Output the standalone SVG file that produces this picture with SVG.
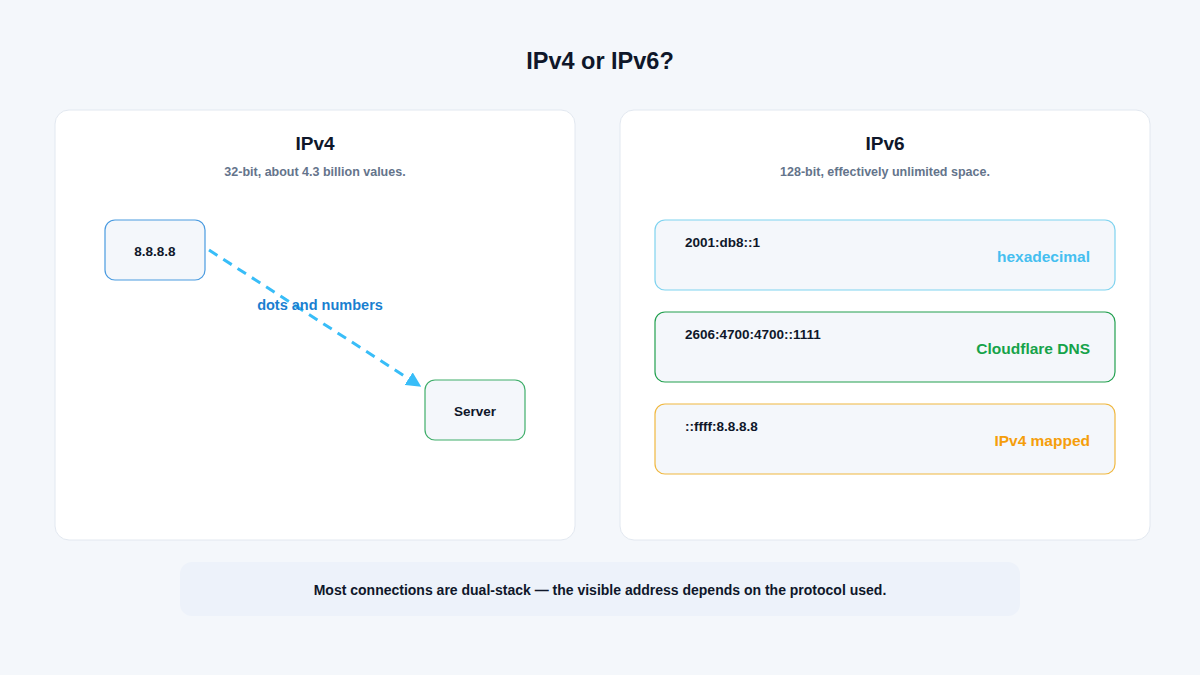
<svg xmlns="http://www.w3.org/2000/svg" width="1200" height="675" viewBox="0 0 1200 675">
<style>
text{font-family:"Liberation Sans",Arial,sans-serif;font-weight:bold}
.panel{fill:#fff;stroke:#e2e8f0;stroke-width:1}
.node{fill:#f4f7fb;stroke-width:1.2}
.t{font-size:13.5px;fill:#0f172a}
.sub{font-size:12.5px;fill:#64748b;text-anchor:middle;font-weight:bold}
.h{font-size:19px;fill:#0f172a;text-anchor:middle}
.lab{font-size:15.5px;text-anchor:end}
</style>
<defs>
<marker id="ah" viewBox="0 0 10 10" refX="9" refY="5" markerWidth="5" markerHeight="5" orient="auto" markerUnits="strokeWidth"><path d="M0,0L10,5L0,10z" fill="#38bdf8"/></marker>
</defs>
<rect width="1200" height="675" fill="#f4f7fb"/>
<text x="600" y="69" font-size="23.5" fill="#0f172a" text-anchor="middle">IPv4 or IPv6?</text>
<g id="panel-ipv4">
<rect class="panel" x="55" y="110" width="520" height="430" rx="14"/>
<text class="h" x="315" y="150">IPv4</text>
<text class="sub" x="315" y="176">32-bit, about 4.3 billion values.</text>
</g>
<g id="panel-ipv6">
<rect class="panel" x="620" y="110" width="530" height="430" rx="14"/>
<text class="h" x="885" y="150">IPv6</text>
<text class="sub" x="885" y="176">128-bit, effectively unlimited space.</text>
</g>
<g id="connectors">
<line x1="209" y1="250" x2="420" y2="386" stroke="#38bdf8" stroke-width="3" stroke-dasharray="10,7" marker-end="url(#ah)"/>
<text x="320" y="310" font-size="14.5" fill="#1a7fd0" text-anchor="middle">dots and numbers</text>
</g>
<g id="n-ip">
<rect class="node" x="105" y="220" width="100" height="60" rx="10" stroke="#4a9be0"/>
<text class="t" x="155" y="256" text-anchor="middle">8.8.8.8</text>
</g>
<g id="n-server">
<rect class="node" x="425" y="380" width="100" height="60" rx="10" stroke="#3fae6a"/>
<text class="t" x="475" y="416" text-anchor="middle">Server</text>
</g>
<g id="n-hex">
<rect class="node" x="655" y="220" width="460" height="70" rx="10" stroke="#7fd3ef"/>
<text class="t" x="685" y="247">2001:db8::1</text>
<text class="lab" x="1090" y="262" fill="#45bff0">hexadecimal</text>
</g>
<g id="n-cf">
<rect class="node" x="655" y="312" width="460" height="70" rx="10" stroke="#22a04f"/>
<text class="t" x="685" y="339">2606:4700:4700::1111</text>
<text class="lab" x="1090" y="354" fill="#16a34a">Cloudflare DNS</text>
</g>
<g id="n-mapped">
<rect class="node" x="655" y="404" width="460" height="70" rx="10" stroke="#f0b840"/>
<text class="t" x="685" y="431">::ffff:8.8.8.8</text>
<text class="lab" x="1090" y="446" fill="#f59e0b">IPv4 mapped</text>
</g>
<g id="footer">
<rect x="180" y="562" width="840" height="54" rx="12" fill="#edf2fa"/>
<text x="600" y="595" font-size="14" fill="#0f172a" text-anchor="middle">Most connections are dual-stack — the visible address depends on the protocol used.</text>
</g>
</svg>
